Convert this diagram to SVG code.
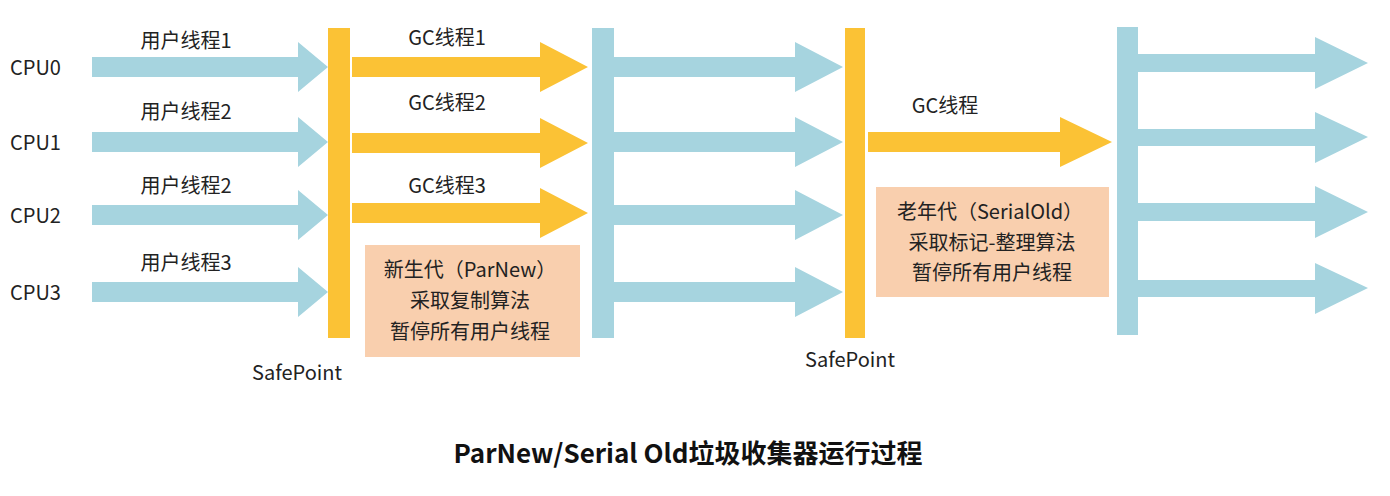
<svg xmlns="http://www.w3.org/2000/svg" width="1390" height="496" viewBox="0 0 1390 496">
<style>
text{font-family:"Noto Sans CJK SC","Liberation Sans",sans-serif;fill:#222;font-size:20px}
.b{fill:#a6d4df}.y{fill:#fbc235}.box{fill:#f9cfae}
.c{text-anchor:middle}
.t{font-size:26px;font-weight:bold;fill:#111}
</style>
<rect width="1390" height="496" fill="#fff"/>
<g id="connectors">
<polygon class="b" points="92,57 298,57 298,42 328,67 298,92 298,77 92,77"/>
<polygon class="b" points="92,132 298,132 298,117 328,142 298,167 298,152 92,152"/>
<polygon class="b" points="92,205 298,205 298,190 328,215 298,240 298,225 92,225"/>
<polygon class="b" points="92,282 298,282 298,267 328,292 298,317 298,302 92,302"/>
<polygon class="y" points="352,57 540,57 540,42 588,67 540,92 540,77 352,77"/>
<polygon class="y" points="352,133 540,133 540,118 588,143 540,168 540,153 352,153"/>
<polygon class="y" points="352,203 540,203 540,188 588,213 540,238 540,223 352,223"/>
<polygon class="b" points="614,57 795,57 795,42 843,67 795,92 795,77 614,77"/>
<polygon class="b" points="614,132 795,132 795,117 843,142 795,167 795,152 614,152"/>
<polygon class="b" points="614,205 795,205 795,190 843,215 795,240 795,225 614,225"/>
<polygon class="b" points="614,282 795,282 795,267 843,292 795,317 795,302 614,302"/>
<polygon class="y" points="868,132 1060,132 1060,117 1112,142 1060,167 1060,152 868,152"/>
<polygon class="b" points="1138,54 1315,54 1315,37 1368,63 1315,89 1315,72 1138,72"/>
<polygon class="b" points="1138,129 1315,129 1315,112 1368,137 1315,163 1315,146 1138,146"/>
<polygon class="b" points="1138,203 1315,203 1315,186 1368,212 1315,238 1315,221 1138,221"/>
<polygon class="b" points="1138,280 1315,280 1315,263 1368,288 1315,314 1315,297 1138,297"/>
</g>
<g id="bar1"><rect class="y" x="328" y="28" width="22" height="310"/></g>
<g id="bar2"><rect class="b" x="592" y="28" width="22" height="310"/></g>
<g id="bar3"><rect class="y" x="845" y="28" width="20" height="310"/></g>
<g id="bar4"><rect class="b" x="1117" y="27" width="21" height="308"/></g>
<g id="cpus">
<text x="10" y="75">CPU0</text><text x="10" y="150">CPU1</text>
<text x="10" y="223">CPU2</text><text x="10" y="300">CPU3</text>
</g>
<g id="labels">
<text class="c" x="186" y="48">用户线程1</text>
<text class="c" x="186" y="119">用户线程2</text>
<text class="c" x="186" y="193">用户线程2</text>
<text class="c" x="186" y="270">用户线程3</text>
<text class="c" x="447" y="45">GC线程1</text>
<text class="c" x="447" y="110">GC线程2</text>
<text class="c" x="447" y="193">GC线程3</text>
<text class="c" x="945" y="113">GC线程</text>
<text class="c" x="297" y="380">SafePoint</text>
<text class="c" x="850" y="367">SafePoint</text>
</g>
<g id="box1"><rect class="box" x="365" y="245" width="215" height="112"/>
<text class="c" x="470" y="277">新生代（ParNew）</text>
<text class="c" x="470" y="308">采取复制算法</text>
<text class="c" x="470" y="339">暂停所有用户线程</text></g>
<g id="box2"><rect class="box" x="876" y="187" width="233" height="110"/>
<text class="c" x="990" y="219">老年代（SerialOld）</text>
<text class="c" x="992" y="250">采取标记-整理算法</text>
<text class="c" x="992" y="280">暂停所有用户线程</text></g>
<text class="t c" x="688" y="463">ParNew/Serial Old垃圾收集器运行过程</text>
</svg>
